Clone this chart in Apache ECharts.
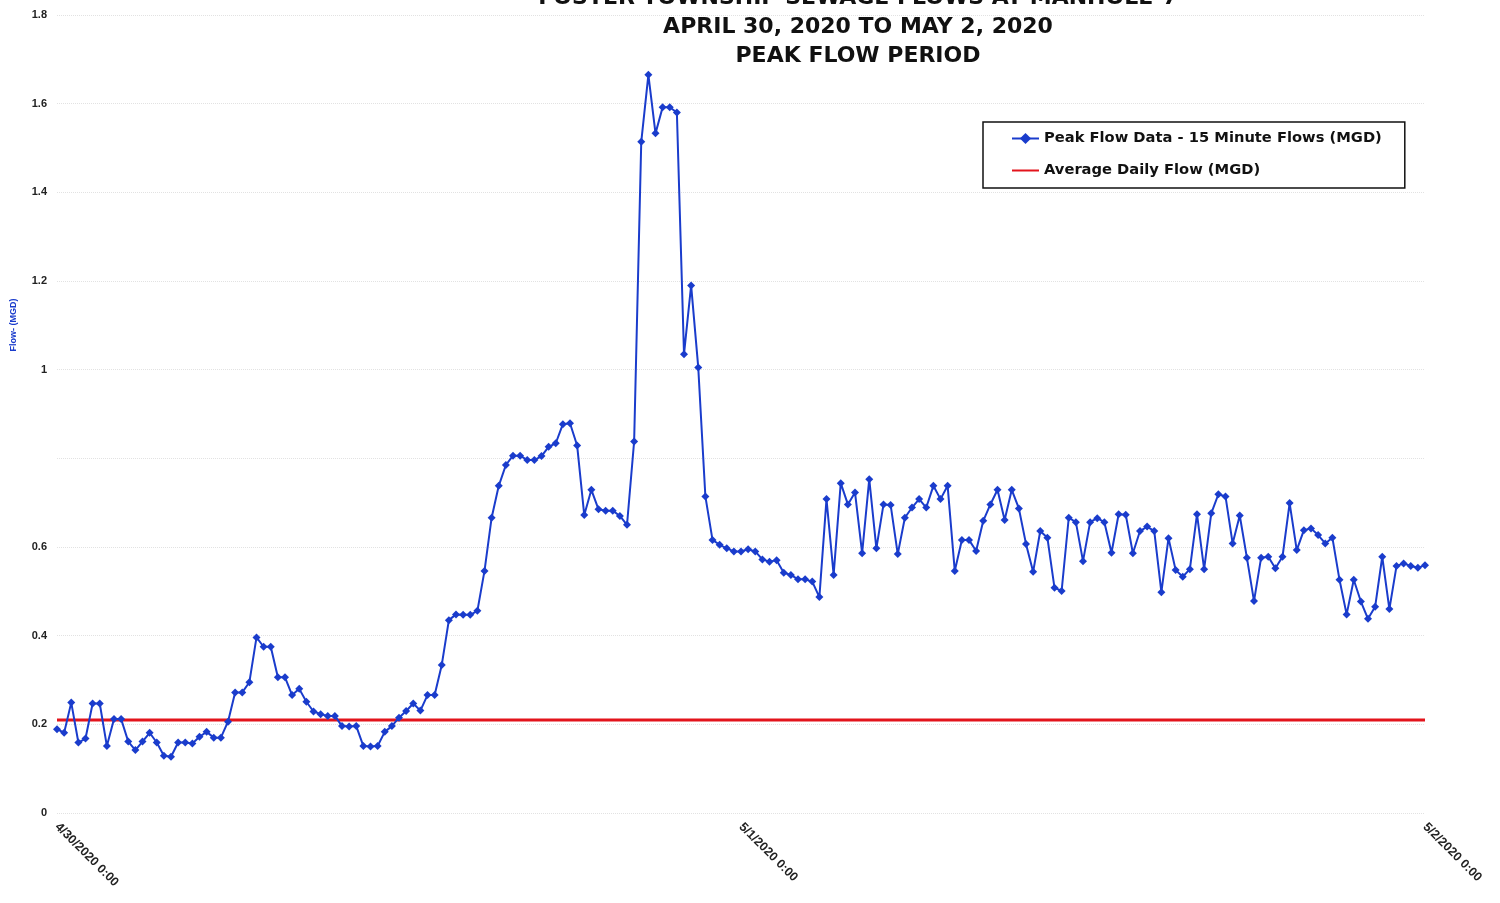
<!DOCTYPE html>
<html>
<head>
<meta charset="utf-8">
<style>html,body{margin:0;padding:0;background:#fff;}#chart{width:1500px;height:903px;}</style>
<script src="https://cdn.jsdelivr.net/npm/echarts@6/dist/echarts.min.js"></script>
</head>
<body>
<div id="chart"></div>
<script>
// ---- data ----
const titleLines = ["FOSTER TOWNSHIP SEWAGE FLOWS AT MANHOLE-7", "APRIL 30, 2020 TO MAY 2, 2020", "PEAK FLOW PERIOD"];
const seriesNames = ["Peak Flow Data - 15 Minute Flows (MGD)", "Average Daily Flow (MGD)"];
const yAxisTitle = "Flow- (MGD)";
const startDate = { month: 4, day: 30, year: 2020 };
const stepMinutes = 15;
const peakFlow = [
  0.189,0.181,0.249,0.159,0.168,0.247,0.247,0.151,0.212,0.212,
  0.161,0.142,0.161,0.181,0.159,0.129,0.127,0.159,0.159,0.157,
  0.172,0.183,0.170,0.170,0.206,0.272,0.272,0.295,0.396,0.375,
  0.375,0.306,0.306,0.266,0.280,0.251,0.229,0.223,0.219,0.219,
  0.196,0.195,0.196,0.151,0.150,0.151,0.183,0.196,0.215,0.230,
  0.247,0.231,0.266,0.266,0.334,0.435,0.448,0.447,0.447,0.456,
  0.546,0.666,0.738,0.785,0.806,0.806,0.796,0.796,0.805,0.826,
  0.834,0.877,0.879,0.829,0.672,0.729,0.685,0.682,0.682,0.670,
  0.650,0.838,1.514,1.665,1.533,1.592,1.592,1.580,1.035,1.190,
  1.005,0.714,0.616,0.605,0.597,0.590,0.590,0.595,0.590,0.572,
  0.567,0.570,0.542,0.537,0.527,0.527,0.522,0.487,0.708,0.537,
  0.744,0.696,0.723,0.586,0.753,0.597,0.696,0.695,0.584,0.666,
  0.689,0.708,0.689,0.738,0.708,0.738,0.546,0.616,0.616,0.591,
  0.659,0.696,0.729,0.661,0.729,0.687,0.607,0.544,0.636,0.621,
  0.508,0.501,0.666,0.656,0.568,0.656,0.665,0.656,0.587,0.674,
  0.673,0.586,0.636,0.646,0.636,0.498,0.620,0.548,0.533,0.550,
  0.674,0.550,0.676,0.719,0.714,0.608,0.671,0.576,0.478,0.576,
  0.578,0.552,0.578,0.699,0.593,0.638,0.642,0.627,0.608,0.621,
  0.526,0.448,0.526,0.477,0.438,0.465,0.578,0.460,0.557,0.563,
  0.557,0.553,0.559
];
const averageDailyFlow = 0.21;
const yTicks = { min: 0, max: 1.8, interval: 0.2 };
const hiddenYLabels = [0.8];

// ---- categories (15 minute timestamps) ----
const categories = [];
{
  const d0 = new Date(startDate.year, startDate.month - 1, startDate.day, 0, 0);
  for (let i = 0; i < peakFlow.length; i++) {
    const d = new Date(d0.getTime() + i * stepMinutes * 60000);
    const mm = String(d.getMinutes()).padStart(2, '0');
    categories.push((d.getMonth() + 1) + '/' + d.getDate() + '/' + d.getFullYear() + ' ' + d.getHours() + ':' + mm);
  }
}
const labelEvery = 96;

const chart = echarts.init(document.getElementById('chart'));
chart.setOption({
  backgroundColor: '#ffffff',
  animation: false,
  title: {
    text: titleLines.join('\n'),
    left: 853,
    textAlign: 'center',
    top: -21,
    textStyle: { fontFamily: 'DejaVu Sans', fontWeight: 'bold', fontSize: 22, lineHeight: 29, color: '#111' }
  },
  legend: {
    orient: 'vertical',
    left: 983,
    top: 122,
    padding: [9, 23, 10, 28],
    itemGap: 17,
    itemWidth: 27,
    itemHeight: 14,
    borderColor: '#111',
    borderWidth: 1.5,
    backgroundColor: '#fff',
    textStyle: { fontFamily: 'DejaVu Sans', fontWeight: 'bold', fontSize: 14.7, color: '#111' },
    data: seriesNames
  },
  graphic: [{
    type: 'text',
    x: 14,
    y: 325,
    rotation: Math.PI / 2,
    style: { text: yAxisTitle, fill: '#1a3ccc', font: 'bold 9px "Liberation Sans"', align: 'center', verticalAlign: 'middle' }
  }],
  grid: { left: 57, right: 75, top: 15, bottom: 90, containLabel: false },
  xAxis: {
    type: 'category',
    data: categories,
    boundaryGap: false,
    axisLine: { show: false },
    axisTick: { show: false },
    splitLine: { show: false },
    axisLabel: {
      interval: (idx) => idx % labelEvery === 0,
      rotate: -45,
      margin: 12,
      fontFamily: 'Liberation Sans',
      fontWeight: 'bold',
      fontSize: 12.5,
      color: '#222'
    }
  },
  yAxis: {
    type: 'value',
    min: yTicks.min,
    max: yTicks.max,
    interval: yTicks.interval,
    axisLine: { show: false },
    axisTick: { show: false },
    splitLine: { show: true, lineStyle: { color: '#e2e2e2', type: 'dotted', width: 1 } },
    axisLabel: {
      margin: 10,
      fontFamily: 'Liberation Sans',
      fontWeight: 'bold',
      fontSize: 11,
      color: '#222',
      formatter: (v) => {
        const r = Math.round(v * 10) / 10;
        return hiddenYLabels.indexOf(r) >= 0 ? '' : String(r);
      }
    }
  },
  series: [
    {
      name: seriesNames[0],
      type: 'line',
      data: peakFlow,
      symbol: 'diamond',
      symbolSize: 8,
      showSymbol: true,
      showAllSymbol: true,
      lineStyle: { color: '#1a3ccc', width: 2 },
      itemStyle: { color: '#1a3ccc' },
      z: 3
    },
    {
      name: seriesNames[1],
      type: 'line',
      data: [[categories[0], averageDailyFlow], [categories[categories.length - 1], averageDailyFlow]],
      symbol: 'none',
      lineStyle: { color: '#e3141c', width: 3 },
      itemStyle: { color: 'rgba(0,0,0,0)' },
      z: 2
    }
  ]
});
</script>
</body>
</html>
